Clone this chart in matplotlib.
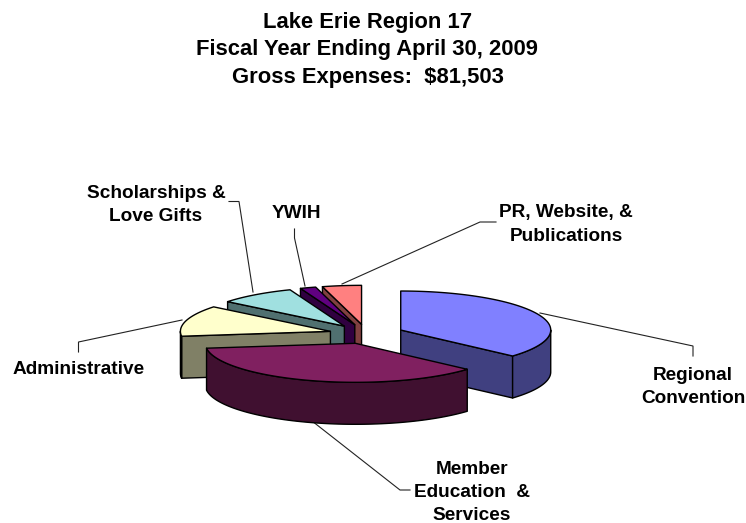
import matplotlib
matplotlib.use("Agg")
import matplotlib.pyplot as plt
import numpy as np
from matplotlib.patches import Polygon

# share of gross expenses (%), clockwise from 12 o'clock
categories = ["Regional Convention", "Member Education & Services", "Administrative",
              "Scholarships & Love Gifts", "YWIH", "PR, Website, & Publications"]
shares = [36.6, 36.4, 12.8, 8.3, 1.7, 4.2]
top_colors = ["#8080FF", "#802060", "#FFFFCC", "#A0E0E0", "#600080", "#FF8080"]
side_colors = ["#404080", "#401030", "#808066", "#507070", "#300040", "#804040"]

title_lines = ["Lake Erie Region 17", "Fiscal Year Ending April 30, 2009", "Gross Expenses:  $81,503"]

# pie geometry in pixels
CX, CY = 366.5, 334.0
RX, RY = 150.0, 39.0
DEPTH = 42.0
EXPLODE = 0.25

plt.rcParams["font.family"] = ["Liberation Sans", "DejaVu Sans"]
plt.rcParams["font.weight"] = "bold"

fig = plt.figure(figsize=(7.46, 5.23), dpi=100)
ax = fig.add_axes([0, 0, 1, 1])
ax.set_xlim(0, 746)
ax.set_ylim(523, 0)
ax.axis("off")


def rim(theta, cx, cy):
    theta = np.asarray(theta)
    return cx + RX * np.sin(theta), cy - RY * np.cos(theta)


def add_face(xs, ys, color):
    ax.add_patch(Polygon(np.column_stack([xs, ys]), closed=True, facecolor=color,
                         edgecolor="black", linewidth=1.0, joinstyle="round"))


edges = np.radians(np.concatenate([[0], np.cumsum(shares)]) / np.sum(shares) * 360)
mids = (edges[:-1] + edges[1:]) / 2

# paint from the back of the pie to the front
for i in np.argsort(np.cos(mids))[::-1]:
    start, end = edges[i], edges[i + 1]
    cx, cy = rim(mids[i], CX, CY)
    cx = CX + EXPLODE * (cx - CX)
    cy = CY + EXPLODE * (cy - CY)

    # cut faces that look towards the viewer
    for angle in (start, end):
        visible = np.pi < angle < 2 * np.pi if angle == start else 0 < angle < np.pi
        if visible:
            ex, ey = rim(angle, cx, cy)
            add_face([cx, ex, ex, cx], [cy, ey, ey + DEPTH, cy + DEPTH], side_colors[i])

    # outer wall, only the part on the near half
    lo, hi = max(start, np.pi / 2), min(end, 3 * np.pi / 2)
    if hi > lo:
        t = np.linspace(lo, hi, 80)
        wx, wy = rim(t, cx, cy)
        add_face(np.r_[wx, wx[::-1]], np.r_[wy, wy[::-1] + DEPTH], side_colors[i])

    t = np.linspace(start, end, 120)
    tx, ty = rim(t, cx, cy)
    add_face(np.r_[cx, tx], np.r_[cy, ty], top_colors[i])

# leader lines
leaders = [
    ([693, 693, 540], [356, 346, 313]),
    ([312, 400, 410], [421, 490, 490]),
    ([78.5, 78.5, 182], [352, 342, 320]),
    ([229, 239, 253], [201.5, 201.5, 292]),
    ([294.5, 294.5, 305], [229, 238, 286]),
    ([496, 480, 342], [222, 222, 284]),
]
for xs, ys in leaders:
    ax.plot(xs, ys, color="#222222", lw=0.8, solid_joinstyle="miter", zorder=0.5)

# labels
labels = [
    (693, 387, "Regional\nConvention"),
    (472, 492.5, "Member\nEducation  &\nServices"),
    (79, 370, "Administrative"),
    (156, 205, "Scholarships &\nLove Gifts"),
    (296, 214, "YWIH"),
    (566, 224.5, "PR, Website, &\nPublications"),
]
for x, y, s in labels:
    ax.text(x, y, s, ha="center", va="center", fontsize=13.7, linespacing=1.47, color="black")

for y, line in zip([22.5, 49.5, 77.5], title_lines):
    ax.text(367.5, y, line, ha="center", va="center", fontsize=15.8, color="black")

fig.savefig("out.png", dpi=100)
